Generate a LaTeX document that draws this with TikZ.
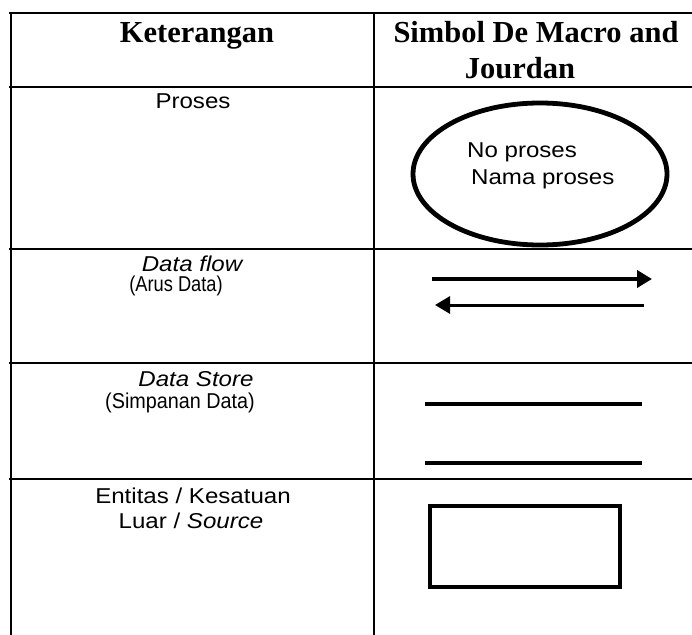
\documentclass[tikz,border=0pt]{standalone}
\usepackage{fontspec}
\setmainfont{Liberation Serif}
\newfontfamily\wsans[FakeStretch=1.12]{Liberation Sans}
\newfontfamily\csans[FakeStretch=0.85]{Liberation Sans}
\newfontfamily\dsans[FakeStretch=0.92]{Liberation Sans}
\usetikzlibrary{arrows.meta}
\tikzset{
  grid/.style={line width=2.2pt, line cap=rect},
  head/.style={anchor=base, inner sep=0pt, font=\fontsize{30.5}{33}\selectfont\bfseries},
  lbl/.style={anchor=base, inner sep=0pt, font=\fontsize{21.5}{24}\selectfont\wsans},
  plbl/.style={anchor=base, inner sep=0pt, font=\fontsize{21.5}{24}\selectfont\csans},
  qlbl/.style={anchor=base, inner sep=0pt, font=\fontsize{21.5}{24}\selectfont\dsans},
  sym/.style={line width=4pt},
  flow/.style={-{Triangle[length=15pt,width=17pt]}}
}
\begin{document}
\begin{tikzpicture}[x=1pt,y=-1pt]
\useasboundingbox (0,0) rectangle (692,634);
% table grid
\draw[grid] (10,13) -- (692,13);
\draw[grid] (10,87) -- (692,87);
\draw[grid] (10,249) -- (692,249);
\draw[grid] (10,363) -- (692,363);
\draw[grid] (10,479) -- (692,479);
\draw[grid] (11,13) -- (11,634);
\draw[grid] (374,13) -- (374,634);
% headers
\node[head] (h1) at (197,42) {Keterangan};
\node[head] (h2a) at (536,42) {Simbol De Macro and};
\node[head] (h2b) at (520,78) {Jourdan};
% left column
\node[lbl] (t1) at (193,108) {Proses};
\node[lbl] (t2a) at (192,271) {\itshape Data flow};
\node[plbl] (t2b) at (176,291) {(Arus Data)};
\node[lbl] (t3a) at (196,386) {\itshape Data Store};
\node[qlbl] (t3b) at (180,408) {(Simpanan Data)};
\node[lbl] (t4a) at (193,503) {Entitas / Kesatuan};
\node[lbl] (t4b) at (191,528) {Luar / \textit{Source}};
% process symbol
\draw[line width=4.8pt] (540,174) ellipse [x radius=127, y radius=71];
\node[lbl, anchor=base west] (np) at (467,157) {No proses};
\node[lbl, anchor=base west] (nm) at (471,184) {Nama proses};
% data flow
\coordinate (fa1) at (432,279);
\coordinate (fa2) at (652,279);
\coordinate (fb1) at (644,305);
\coordinate (fb2) at (435,305);
\draw[sym, flow] (fa1) -- (fa2);
\draw[line width=3pt, flow] (fb1) -- (fb2);
% data store
\coordinate (s1a) at (425,404);
\coordinate (s1b) at (642,404);
\coordinate (s2a) at (425,463);
\coordinate (s2b) at (642,463);
\draw[sym] (s1a) -- (s1b);
\draw[sym] (s2a) -- (s2b);
% entity
\node[draw, line width=3.5pt, minimum width=190pt, minimum height=81pt, inner sep=0pt] (ent) at (525,546.5) {};
\end{tikzpicture}
\end{document}
